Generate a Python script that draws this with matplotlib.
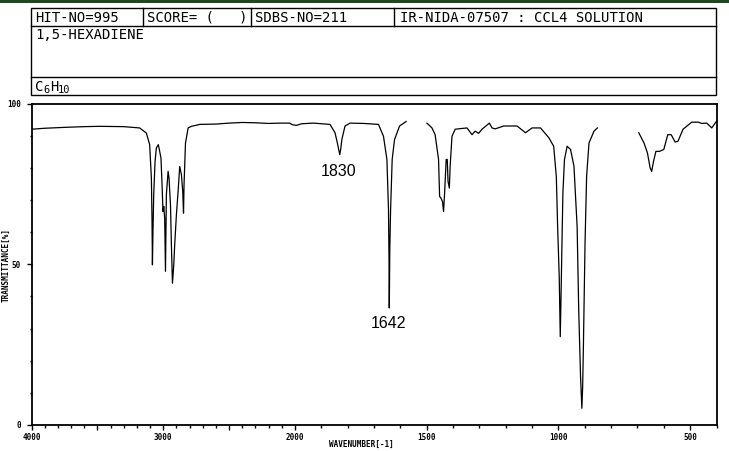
import numpy as np
import matplotlib
matplotlib.use("Agg")
import matplotlib.pyplot as plt
from matplotlib.ticker import FixedLocator, FuncFormatter

# IR spectrum of 1,5-hexadiene (CCl4 solution)
# three pieces, the solvent windows are left blank
wn_a = [4000, 3900, 3736, 3600, 3483, 3300, 3179, 3128, 3103, 3090, 3085, 3082,
        3078, 3072, 3062, 3052, 3037, 3017, 3009, 3002, 2996, 2989, 2983, 2976,
        2963, 2956, 2945, 2938, 2930, 2920, 2913, 2900, 2887, 2875, 2862, 2852,
        2846, 2842, 2831, 2811, 2786, 2722, 2600, 2500, 2400, 2300, 2200, 2114,
        2040, 2020, 1994, 1975, 1930, 1867, 1848, 1839, 1830, 1826, 1822, 1810,
        1791, 1740, 1683, 1664, 1651, 1645, 1643, 1642, 1640, 1637, 1631, 1622,
        1603, 1578]
tr_a = [92.0, 92.3, 92.6, 92.8, 92.9, 92.8, 92.4, 90.8, 87.2, 76.8, 63.3, 49.8,
        60.0, 72.0, 82.0, 86.2, 87.2, 83.0, 74.8, 66.4, 68.0, 64.4, 47.8, 71.7,
        78.9, 76.8, 68.5, 56.0, 44.1, 49.8, 56.0, 65.4, 72.7, 80.4, 77.9, 72.7,
        65.9, 74.8, 87.7, 92.4, 92.9, 93.5, 93.6, 93.9, 94.1, 94.0, 93.8, 93.9,
        93.9, 93.4, 93.2, 93.7, 93.9, 93.5, 90.9, 87.7, 84.1, 86.0, 88.8, 93.0,
        93.9, 93.8, 93.5, 89.8, 82.6, 67.0, 51.4, 36.4, 55.0, 67.0, 82.6, 88.8,
        93.0, 94.4]

wn_b = [1499, 1480, 1468, 1455, 1451, 1446, 1440, 1436, 1432, 1426, 1422, 1419,
        1414, 1411, 1404, 1392, 1347, 1328, 1316, 1303, 1290, 1262, 1252, 1240,
        1208, 1157, 1125, 1100, 1068, 1036, 1018, 1008, 1003, 997, 993, 989,
        987, 983, 977, 967, 954, 941, 929, 923, 916, 911, 908, 905, 899, 893,
        884, 865, 852]
tr_b = [93.9, 92.4, 90.3, 82.6, 71.1, 70.6, 69.5, 66.4, 72.2, 82.6, 82.6, 75.8,
        73.7, 80.5, 89.8, 92.0, 92.4, 90.3, 91.4, 90.7, 92.0, 93.9, 92.4, 92.1,
        93.0, 93.0, 90.9, 92.4, 92.4, 89.3, 86.7, 77.3, 61.7, 46.2, 27.5, 45.0,
        54.5, 72.2, 82.6, 86.7, 85.7, 80.5, 61.7, 35.8, 15.0, 5.2, 12.0, 25.4,
        56.6, 77.3, 87.7, 91.4, 92.4]

wn_c = [695, 675, 662, 652, 646, 639, 630, 617, 600, 585, 572, 557, 546, 527,
        494, 469, 456, 437, 418, 405, 400]
tr_c = [90.9, 87.7, 84.6, 80.0, 78.9, 82.0, 85.1, 85.1, 85.7, 90.3, 90.3, 88.0,
        88.3, 92.0, 94.2, 94.2, 93.8, 93.9, 92.4, 93.9, 94.5]

peak_labels = ["1830", "1642"]
peak_pos = [(1836, 79.0), (1646, 31.5)]

header_cells = ["HIT-NO=995", "SCORE= (   )", "SDBS-NO=211",
                "IR-NIDA-07507 : CCL4 SOLUTION"]
compound = "1,5-HEXADIENE"

W, H = 729, 451
mono = "DejaVu Sans Mono"


# wavenumber axis: 4000-2000 is compressed by half
def fwd(w):
    w = np.asarray(w, dtype=float)
    return np.where(w > 2000, 2000 + (w - 2000) / 2.0, w)


def inv(v):
    v = np.asarray(v, dtype=float)
    return np.where(v > 2000, 2000 + (v - 2000) * 2.0, v)


fig = plt.figure(figsize=(W / 100, H / 100), dpi=100)
fig.patch.set_facecolor("white")

# overlay in pixel coords for the header box
bg = fig.add_axes([0, 0, 1, 1])
bg.set_xlim(0, W)
bg.set_ylim(H, 0)
bg.axis("off")
bg.add_patch(plt.Rectangle((0, 0), W, 2.5, color="#1c4a1c", lw=0))
bg.add_patch(plt.Rectangle((31.5, 8), 685, 87, fill=False, ec="black", lw=1))
bg.plot([31.5, 716.5], [26, 26], color="black", lw=1)
bg.plot([31.5, 716.5], [77, 77], color="black", lw=1)
for xs in [143, 251, 394]:
    bg.plot([xs, xs], [8, 26], color="black", lw=1)
for xs, txt in zip([35, 147, 255, 400], header_cells):
    bg.text(xs, 17.5, txt, family=mono, fontsize=10, va="center", ha="left")
bg.text(35, 35, compound, family=mono, fontsize=10, va="center", ha="left")
bg.text(35, 87, "C", family=mono, fontsize=10, va="center", ha="left")
bg.text(43, 90, "6", family=mono, fontsize=7.5, va="center", ha="left")
bg.text(50, 87, "H", family=mono, fontsize=10, va="center", ha="left")
bg.text(58, 90, "10", family=mono, fontsize=7.5, va="center", ha="left")
bg.text(6, 265, "TRANSMITTANCE[%]", family=mono, fontsize=5.5, weight="bold",
        rotation=90, va="center", ha="center")
bg.text(361, 444, "WAVENUMBER[-1]", family=mono, fontsize=5.5, weight="bold",
        va="center", ha="center")

ax = fig.add_axes([31.5 / W, 1 - 425 / H, 685 / W, (425 - 103.5) / H])
ax.set_xscale("function", functions=(fwd, inv))
ax.plot(wn_a, tr_a, color="black", lw=0.9)
ax.plot(wn_b, tr_b, color="black", lw=0.9)
ax.plot(wn_c, tr_c, color="black", lw=0.9)
ax.set_xlim(4000, 400)
ax.set_ylim(0, 100)

for txt, (x, y) in zip(peak_labels, peak_pos):
    ax.text(x, y, txt, family="Liberation Sans", fontsize=11.5,
            ha="center", va="center")

ax.xaxis.set_major_locator(FixedLocator([4000, 3500, 3000, 2500, 2000, 1500, 1000, 500]))
ax.xaxis.set_minor_locator(FixedLocator(list(range(4000, 399, -100))))
ax.xaxis.set_major_formatter(FuncFormatter(
    lambda v, p: "" if int(round(v)) in (3500, 2500) else str(int(round(v)))))
ax.yaxis.set_major_locator(FixedLocator([0, 50, 100]))
ax.yaxis.set_minor_locator(FixedLocator(list(range(0, 101, 10))))
ax.yaxis.set_major_formatter(FuncFormatter(lambda v, p: str(int(v))))

ax.tick_params(which="major", direction="out", length=3.6, width=1,
               labelsize=5.5, pad=2)
ax.tick_params(which="minor", direction="out", length=1.8, width=1)
ax.tick_params(axis="y", pad=4)
for lab in ax.get_xticklabels() + ax.get_yticklabels():
    lab.set_family(mono)
    lab.set_weight("bold")
for s in ax.spines.values():
    s.set_linewidth(1.3)

fig.savefig("out.png", dpi=100, facecolor="white")
